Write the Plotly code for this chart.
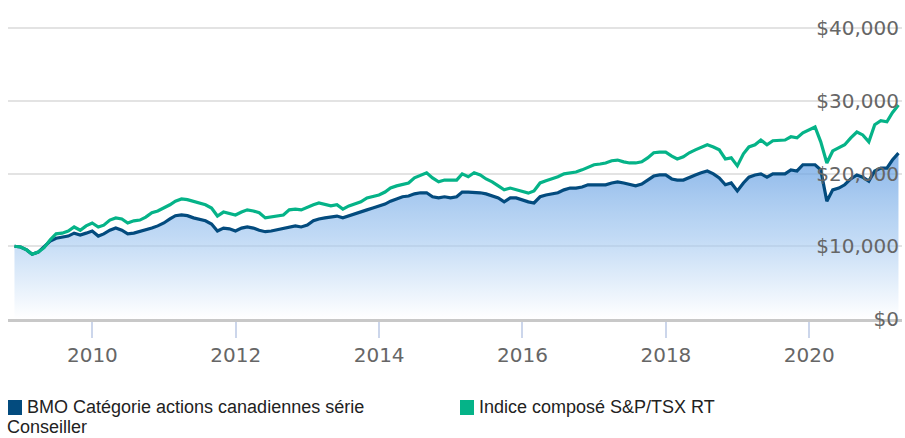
import pandas as pd
import plotly.graph_objects as go

# Month-end dates, Nov 2008 .. Mar 2021
dates = pd.date_range("2008-12-01", periods=149, freq="MS") - pd.Timedelta(days=1)

fund_name = "BMO Catégorie actions canadiennes série"
fund_name2 = "Conseiller"
index_name = "Indice composé S&P/TSX RT"

# Growth of $10,000 (thousands)
fund_values = [
    10.0, 9.9, 9.5, 8.9, 9.2, 9.9, 10.7, 11.1, 11.3, 11.4, 11.8, 11.55, 11.8, 12.1,
    11.4, 11.7, 12.2, 12.5, 12.2, 11.7, 11.8, 12.0, 12.2, 12.5, 12.8, 13.2, 13.75, 14.2,
    14.3, 14.2, 13.9, 13.75, 13.5, 13.05, 12.1, 12.5, 12.4, 12.1, 12.5, 12.65, 12.5, 12.2,
    12.0, 12.1, 12.25, 12.4, 12.65, 12.8, 12.65, 12.9, 13.5, 13.75, 13.9, 14.0, 14.15, 13.9,
    14.15, 14.45, 14.7, 15.0, 15.25, 15.55, 15.8, 16.2, 16.5, 16.8, 16.9, 17.2, 17.35, 17.35,
    16.8, 16.65, 16.8, 16.65, 16.8, 17.45, 17.45, 17.45, 17.35, 17.2, 16.9, 16.65, 16.1, 16.65,
    16.65, 16.35, 16.1, 15.95, 16.8, 17.05, 17.2, 17.35, 17.75, 18.0, 18.0, 18.15, 18.45, 18.45,
    18.55, 18.45, 18.7, 18.85, 18.7, 18.55, 18.3, 18.55, 19.1, 19.65, 19.8, 19.8, 19.25, 19.1,
    19.1, 19.5, 19.8, 20.1, 20.35, 19.95, 19.4, 18.45, 18.7, 17.6, 18.7, 19.5, 19.8, 19.95,
    19.5, 19.95, 20.0, 19.95, 20.5, 20.35, 21.2, 21.2, 21.2, 20.5, 16.2, 17.75, 18.0, 18.45,
    19.25, 19.8, 19.5, 18.95, 20.35, 20.75, 20.75, 21.85, 22.8,
]
index_values = [
    10.0, 9.9, 9.5, 8.9, 9.2, 9.8, 10.9, 11.7, 11.8, 12.1, 12.65, 12.2, 12.8, 13.2,
    12.65, 12.9, 13.6, 13.9, 13.75, 13.2, 13.5, 13.6, 14.0, 14.6, 14.85, 15.25, 15.7, 16.2,
    16.5, 16.4, 16.2, 15.95, 15.7, 15.25, 14.15, 14.7, 14.45, 14.3, 14.7, 15.0, 14.85, 14.6,
    13.9, 14.0, 14.15, 14.3, 15.0, 15.1, 15.0, 15.4, 15.7, 15.95, 15.8, 15.55, 15.7, 15.1,
    15.55, 15.8, 16.1, 16.65, 16.9, 17.05, 17.45, 18.0, 18.3, 18.55, 18.7, 19.4, 19.8, 20.1,
    19.4, 18.85, 19.1, 19.1, 19.1, 19.95, 19.55, 20.1, 19.8, 19.25, 18.85, 18.3, 17.75, 18.0,
    17.75, 17.45, 17.3, 17.6, 18.7, 19.0, 19.25, 19.55, 19.95, 20.1, 20.2, 20.5, 20.9, 21.2,
    21.3, 21.45, 21.75, 21.85, 21.6, 21.45, 21.45, 21.6, 22.15, 22.85, 22.95, 22.95, 22.4, 22.0,
    22.3, 22.85, 23.25, 23.65, 23.95, 23.65, 23.25, 22.0, 22.15, 21.05, 22.7, 23.65, 23.95, 24.6,
    23.95, 24.5, 24.6, 24.6, 25.05, 24.9, 25.6, 26.0, 26.4, 24.35, 21.45, 23.1, 23.5, 23.95,
    24.9, 25.7, 25.3, 24.35, 26.7, 27.25, 27.1, 28.35, 29.4,
]

fund = [v * 1000 for v in fund_values]
index = [v * 1000 for v in index_values]

y_ticks = [0, 10000, 20000, 30000, 40000]
y_tick_labels = ["$0", "$10,000", "$20,000", "$30,000", "$40,000"]
x_ticks = ["2010-01-01", "2012-01-01", "2014-01-01", "2016-01-01", "2018-01-01", "2020-01-01"]
x_tick_labels = ["2010", "2012", "2014", "2016", "2018", "2020"]

FUND_COLOR = "#034b7e"
INDEX_COLOR = "#05b388"

fig = go.Figure()
fig.add_trace(go.Scatter(
    x=dates, y=fund, mode="lines", name=fund_name,
    line=dict(color=FUND_COLOR, width=3.2),
    fill="tozeroy",
    fillgradient=dict(
        type="vertical",
        colorscale=[[0, "rgba(255,255,255,0.6)"], [0.5, "rgba(150,192,238,0.6)"], [1, "rgba(95,155,225,0.75)"]],
        start=0, stop=23000,
    ),
    hoverinfo="skip",
))
fig.add_trace(go.Scatter(
    x=dates, y=index, mode="lines", name=index_name,
    line=dict(color=INDEX_COLOR, width=3.2),
    hoverinfo="skip",
))

L, R, T, B = 8, 3, 10, 119
W, H = 905, 438
pw = W - L - R
ph = H - T - B

def px(x):
    return (x - L) / pw

def py(y):
    return (H - B - y) / ph

tick_font = dict(family="DejaVu Sans, Verdana, sans-serif", size=20, color="#666666")

fig.update_layout(
    width=W, height=H,
    margin=dict(l=L, r=R, t=T, b=B, pad=0),
    plot_bgcolor="white", paper_bgcolor="white",
    showlegend=False,
    hovermode=False,
    xaxis=dict(
        type="date",
        range=["2008-10-28", "2021-04-18"],
        tickvals=x_ticks, ticktext=x_tick_labels,
        ticks="outside", ticklen=16, tickwidth=2, tickcolor="#ccd6eb",
        showgrid=False, zeroline=False,
        showline=True, linecolor="#c8c8c8", linewidth=3,
        tickfont=tick_font,
    ),
    yaxis=dict(
        range=[0, 42474],
        side="right",
        ticklabelposition="inside",
        ticklabeloverflow="allow",
        tickvals=y_ticks, ticktext=y_tick_labels,
        showgrid=True, gridcolor="#e3e3e3", gridwidth=2,
        zeroline=False, showline=False, ticks="",
        tickfont=tick_font,
    ),
)

# custom legend
legend_font = dict(family="Liberation Sans, Arial, sans-serif", size=18, color="#222222")
fig.add_shape(type="rect", xref="paper", yref="paper",
              x0=px(8), x1=px(22), y0=py(400), y1=py(415),
              fillcolor=FUND_COLOR, line=dict(width=0))
fig.add_shape(type="rect", xref="paper", yref="paper",
              x0=px(460), x1=px(474), y0=py(400), y1=py(415),
              fillcolor=INDEX_COLOR, line=dict(width=0))
fig.add_annotation(xref="paper", yref="paper", x=px(26), y=py(407), text=fund_name,
                   showarrow=False, xanchor="left", yanchor="middle", font=legend_font, borderpad=0)
fig.add_annotation(xref="paper", yref="paper", x=px(6), y=py(427), text=fund_name2,
                   showarrow=False, xanchor="left", yanchor="middle", font=legend_font, borderpad=0)
fig.add_annotation(xref="paper", yref="paper", x=px(478), y=py(407), text=index_name,
                   showarrow=False, xanchor="left", yanchor="middle", font=legend_font, borderpad=0)

fig.write_html("out.html", config={"displayModeBar": False},
               post_script="document.body.style.margin='0';")
